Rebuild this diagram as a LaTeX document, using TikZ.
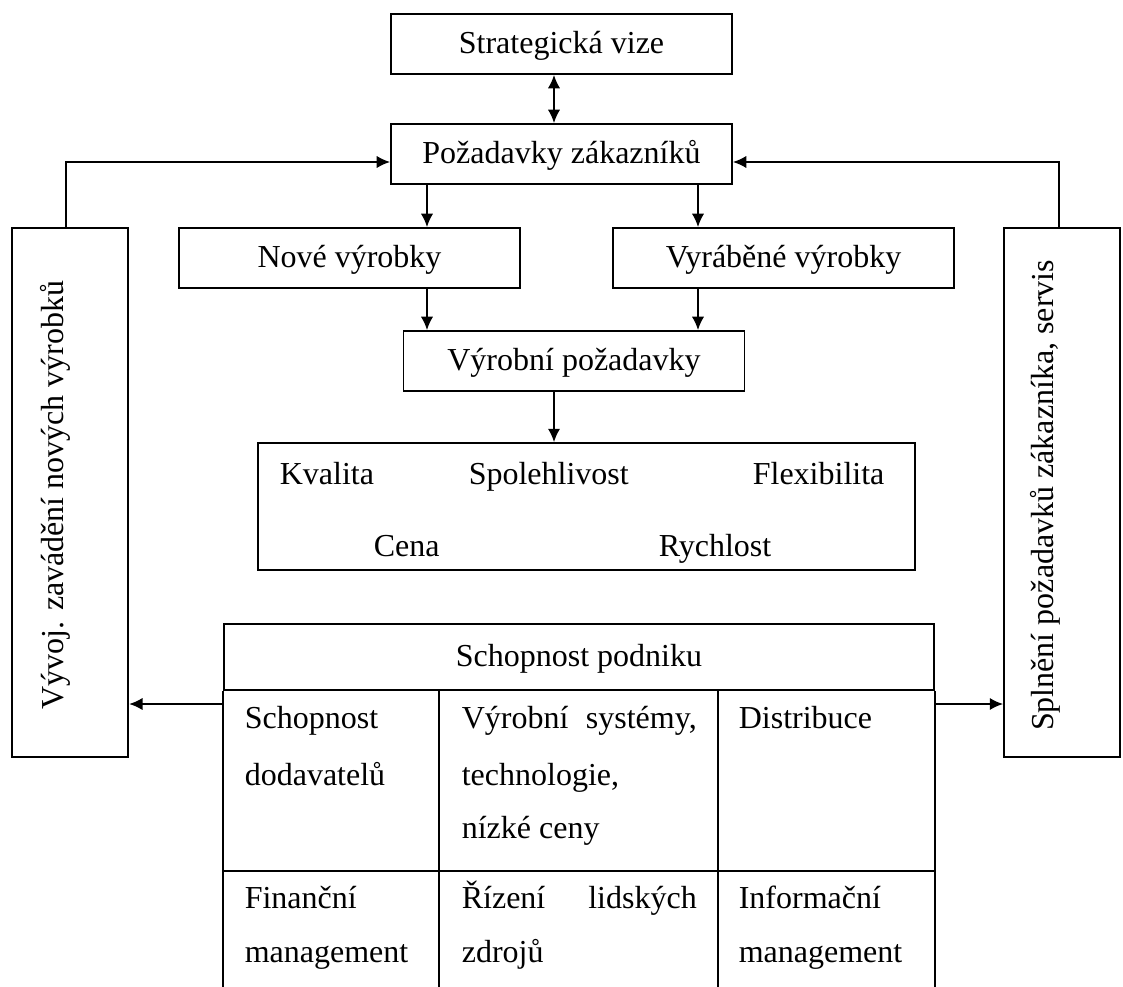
\documentclass[tikz,border=0pt]{standalone}
\usepackage{fontspec}
\setmainfont{Liberation Serif}
\usetikzlibrary{arrows.meta,positioning,calc}
\newcommand{\Txt}{\fontsize{12pt}{14pt}\selectfont}
\tikzset{
  every picture/.style={line width=0.6pt},
  every node/.style={font=\Txt},
  box/.style={draw, line width=0.7pt, minimum width=127.875pt, minimum height=22.5pt, inner sep=0pt, text height=9pt, text depth=2.2pt},
  cell/.style={anchor=base west, inner sep=0pt},
  vtext/.style={rotate=90, anchor=base, inner sep=0pt}
}

\begin{document}
\begin{tikzpicture}[x=0.375pt, y=-0.375pt, >={Latex[length=5pt,width=4.6pt]}]
    \useasboundingbox (0,0) rectangle (1123,987);

    \node [box] (sv) at (561.5,44) {Strategická vize};
    \node [box] (pz) at (561.5,154) {Požadavky zákazníků};
    \node [box] (nv) at (349.5,258) {Nové výrobky};
    \node [box] (vv) at (783.5,258) {Vyráběné výrobky};
    \node [box] (vp) at (574,361) {Výrobní požadavky};

    \node [box, minimum width=246.4pt, minimum height=47.6pt] (par) at (586.5,506.5) {};
    \node [cell] (kva) at (279,484) {Kvalita};
    \node [cell] (spo) at (468,484) {Spolehlivost};
    \node [cell] (fle) at (752,484) {Flexibilita};
    \node [cell] (cen) at (373,556) {Cena};
    \node [cell] (rych) at (658,556) {Rychlost};

    % side boxes
    \node [box, minimum width=43.7pt, minimum height=198.4pt] (vyv) at (70,492.5) {};
    \node [vtext] (vyvt) at (63,495) {Vývoj. zavádění nových výrobků};
    \node [box, minimum width=43.5pt, minimum height=198.4pt] (spl) at (1062,492.5) {};
    \node [vtext] (splt) at (1053,495.5) {Splnění požadavků zákazníka, servis};

    % table
    \coordinate (bot) at (0,990);
    \coordinate (c1) at (439,0);
    \coordinate (c2) at (718,0);
    \coordinate (r1) at (0,871);
    \node [box, minimum width=266.25pt, minimum height=24.75pt] (sp) at (579,657) {Schopnost podniku};
    \draw [line width=0.7pt] (sp.south west) -- (sp.south west |- bot);
    \draw [line width=0.7pt] (sp.south east) -- (sp.south east |- bot);
    \draw [line width=0.7pt] (sp.south -| c1) -- (bot -| c1);
    \draw [line width=0.7pt] (sp.south -| c2) -- (bot -| c2);
    \draw [line width=0.7pt] (sp.south west |- r1) -- (sp.south east |- r1);

    \node [cell] (sd1) at (244,728) {Schopnost};
    \node [cell] (sd2) at (244,785) {dodavatelů};
    \node [cell] (vs1) at (461,728) {\hbox to 88.1pt{Výrobní\hfill systémy,}};
    \node [cell] (vs2) at (461,785) {technologie,};
    \node [cell] (vs3) at (461,838) {nízké ceny};
    \node [cell] (dis) at (738,728) {Distribuce};
    \node [cell] (fm1) at (244,908) {Finanční};
    \node [cell] (fm2) at (244,962) {management};
    \node [cell] (rl1) at (461,908) {\hbox to 88.1pt{Řízení\hfill lidských}};
    \node [cell] (rl2) at (461,962) {zdrojů};
    \node [cell] (im1) at (738,908) {Informační};
    \node [cell] (im2) at (738,962) {management};

    % connectors
    \coordinate (ax) at (554,0);
    \coordinate (lx) at (427,0);
    \coordinate (rx) at (698,0);
    \coordinate (fy) at (0,162);
    \coordinate (by) at (0,704);

    \draw (sv.south -| ax) edge[<->] (pz.north -| ax);
    \draw (pz.south -| lx) edge[->] (nv.north -| lx);
    \draw (pz.south -| rx) edge[->] (vv.north -| rx);
    \draw (nv.south -| lx) edge[->] (vp.north -| lx);
    \draw (vv.south -| rx) edge[->] (vp.north -| rx);
    \draw (vp.south -| ax) edge[->] (par.north -| ax);

    \draw [->] ([xshift=-1.5pt]vyv.north) |- (pz.west |- fy);
    \draw [->] ([xshift=-1.1pt]spl.north) |- (pz.east |- fy);
    \draw [->] (sp.west |- by) -- (vyv.east |- by);
    \draw [->] (sp.east |- by) -- (spl.west |- by);
  \end{tikzpicture}
\end{document}
